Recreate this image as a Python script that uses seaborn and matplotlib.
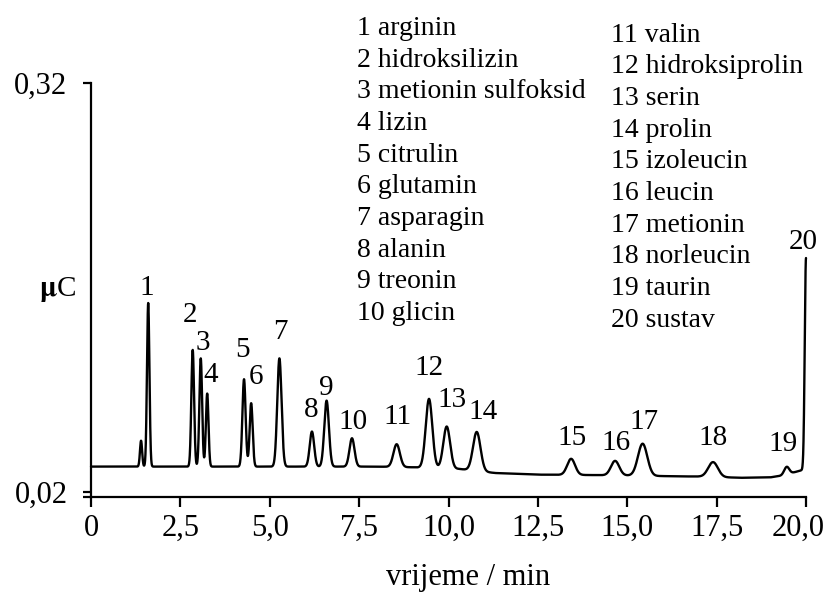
import numpy as np
import pandas as pd
import matplotlib
matplotlib.use("Agg")
import matplotlib.pyplot as plt
import matplotlib.transforms as mtransforms
import seaborn as sns

# ---------------- data ----------------
compounds = ["arginin", "hidroksilizin", "metionin sulfoksid", "lizin", "citrulin",
             "glutamin", "asparagin", "alanin", "treonin", "glicin",
             "valin", "hidroksiprolin", "serin", "prolin", "izoleucin",
             "leucin", "metionin", "norleucin", "taurin", "sustav"]

# peak retention time (min), peak height above baseline (µC), peak sigma (min)
peak_time = [1.40, 1.60, 2.845, 3.07, 3.25, 4.28, 4.48, 5.27, 6.18, 6.59, 7.30,
             8.55, 9.455, 9.95, 10.79, 13.43, 14.66, 15.43, 17.40, 19.46, 20.0]
peak_height = [0.019, 0.1200, 0.0856, 0.0794, 0.0536, 0.0641, 0.0465, 0.0794, 0.0257,
               0.0484, 0.0208, 0.0167, 0.0506, 0.0308, 0.0286, 0.0118, 0.0106,
               0.0235, 0.0109, 0.0055, 0.155]
peak_sigma = [0.030, 0.034, 0.038, 0.038, 0.036, 0.045, 0.042, 0.060, 0.062, 0.065,
              0.070, 0.090, 0.092, 0.095, 0.105, 0.110, 0.115, 0.130, 0.135, 0.070,
              0.035]

# baseline drift (min, µC)
base_time = [0.0, 8.0, 9.0, 10.3, 11.3, 12.5, 14.0, 15.0, 16.3, 17.0, 18.2, 19.0,
             19.3, 19.6, 19.9, 20.0]
base_level = [0.0386, 0.0386, 0.0381, 0.0369, 0.0339, 0.0327, 0.0324, 0.0321,
              0.0315, 0.0313, 0.0304, 0.0307, 0.0319, 0.0339, 0.0361, 0.0366]

x_ticks = [0, 2.5, 5.0, 7.5, 10.0, 12.5, 15.0, 17.5, 20.0]
x_tick_labels = ["0", "2,5", "5,0", "7,5", "10,0", "12,5", "15,0", "17,5", "20,0"]
y_ticks = [0.02, 0.32]
y_tick_labels = ["0,02", "0,32"]

# ---------------- build trace ----------------
t = np.linspace(0, 20.0, 8001)
signal = np.interp(t, base_time, base_level)
for c, h, s in zip(peak_time, peak_height, peak_sigma):
    signal = signal + h * np.exp(-0.5 * ((t - c) / s) ** 2)
df = pd.DataFrame({"vrijeme": t, "signal": signal})

# ---------------- layout ----------------
sns.set_theme(style="ticks")
plt.rcParams["font.family"] = ["Liberation Serif", "DejaVu Serif"]
plt.rcParams["mathtext.fontset"] = "stix"

W, H = 826, 592
fig = plt.figure(figsize=(W / 100, H / 100), dpi=100)
ax_left, ax_right, ax_top, ax_bot = 91, 806, 83, 497
ax = fig.add_axes([ax_left / W, 1 - ax_bot / H, (ax_right - ax_left) / W,
                   (ax_bot - ax_top) / H])

sns.lineplot(data=df, x="vrijeme", y="signal", color="black", linewidth=1.7,
             ax=ax, estimator=None, sort=False)
for ln in ax.lines:
    ln.set_clip_on(False)

ax.set_xlim(0, 20)
ax.set_ylim(0.0163, 0.32)
ax.set_xticks(x_ticks)
ax.set_xticklabels(x_tick_labels)
ax.set_yticks([0.0163] + y_ticks)
ax.set_yticklabels([""] + y_tick_labels)
ax.tick_params(axis="x", direction="out", length=7, width=1.6, pad=5,
               labelsize=22, colors="black")
ax.tick_params(axis="y", direction="out", length=6, width=1.6, pad=11,
               labelsize=22, colors="black")
sns.despine(ax=ax)
for sp in ["left", "bottom"]:
    ax.spines[sp].set_linewidth(1.6)
    ax.spines[sp].set_color("black")

# last x tick label pulled left a little, as in the reference
last = ax.get_xticklabels()[-1]
last.set_transform(last.get_transform() +
                   mtransforms.ScaledTranslation(-8 / 100, 0, fig.dpi_scale_trans))

ax.set_xlabel("vrijeme / min", fontsize=22, color="black")
ax.xaxis.set_label_coords((468 - ax_left) / (ax_right - ax_left),
                          (ax_bot - 578) / (ax_bot - ax_top))
ax.xaxis.label.set_va("center")
ax.set_ylabel(r"$\mathbf{\mu}$C", fontsize=21, rotation=0, color="black")
ax.yaxis.set_label_coords((58 - ax_left) / (ax_right - ax_left),
                          (ax_bot - 290) / (ax_bot - ax_top))
ax.yaxis.label.set_va("center")
ax.yaxis.label.set_ha("center")

# peak number labels (time, level) - layout only
label_time = [1.56, 2.77, 3.13, 3.35, 4.25, 4.62, 5.29, 6.15, 6.59, 7.32,
              8.56, 9.45, 10.10, 10.97, 13.45, 14.69, 15.47, 17.40, 19.36, 19.92]
label_level = [0.1694, 0.1497, 0.1295, 0.1059, 0.1242, 0.1046, 0.1376, 0.0802,
               0.0963, 0.0715, 0.0750, 0.1109, 0.0875, 0.0787, 0.0596, 0.0559,
               0.0713, 0.0596, 0.0552, 0.2035]
for i, (lt, lv) in enumerate(zip(label_time, label_level)):
    ax.text(lt, lv, str(i + 1), ha="center", va="center", fontsize=21,
            color="black", clip_on=False)

# compound list
col_x = [357, 611]
col_y0 = [35, 41.7]
step = 31.67
for i, name in enumerate(compounds):
    col = 0 if i < 10 else 1
    row = i % 10
    y = col_y0[col] + row * step
    fig.text(col_x[col] / W, 1 - y / H, f"{i + 1} {name}", ha="left",
             va="baseline", fontsize=20, color="black")

fig.savefig("out.png", dpi=100)
